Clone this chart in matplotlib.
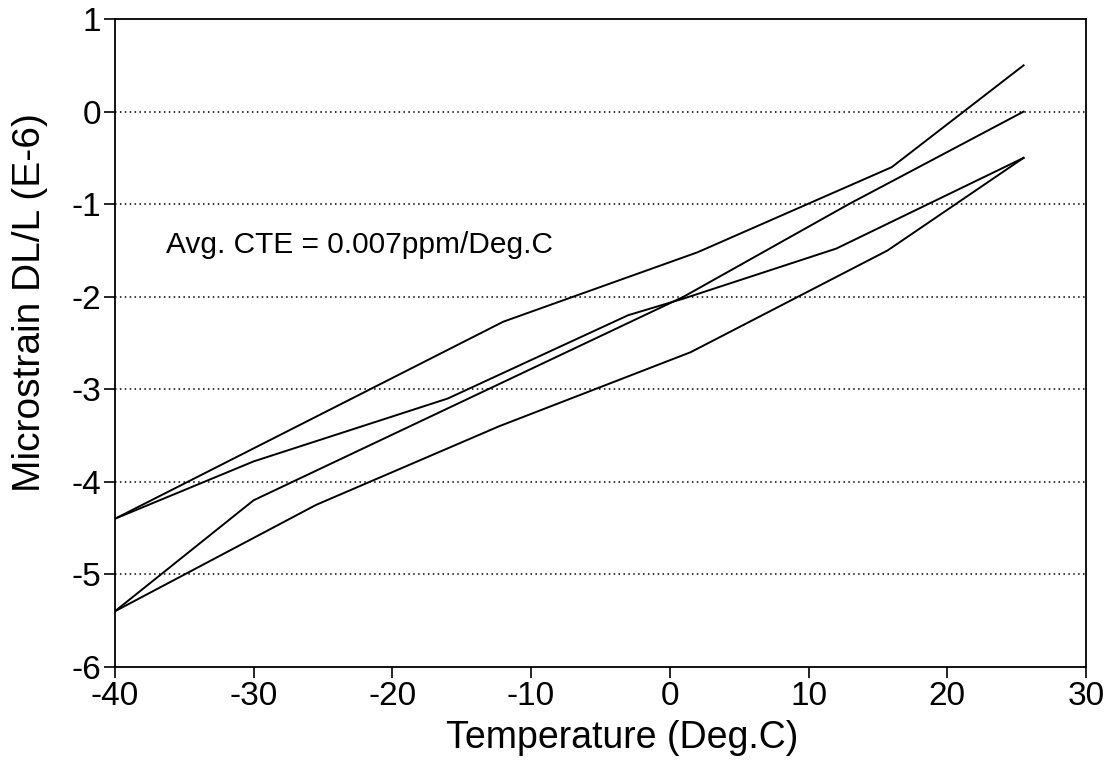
import matplotlib.pyplot as plt

plt.rcParams['font.family'] = ['Liberation Sans', 'DejaVu Sans']

# two thermal cycles, each with a heating and a cooling leg
temp_a_up = [-40, -12, 2, 16, 25.5]
strain_a_up = [-4.4, -2.27, -1.52, -0.6, 0.5]

temp_a_down = [-40, -30, -16, -3, 1, 12, 25.5]
strain_a_down = [-4.4, -3.78, -3.1, -2.2, -2.02, -1.48, -0.5]

temp_b_up = [-40, -30, 1, 12.9, 25.5]
strain_b_up = [-5.4, -4.2, -2.0, -1.0, 0.0]

temp_b_down = [-40, -25.5, -12.3, 1.5, 15.7, 25.5]
strain_b_down = [-5.4, -4.25, -3.4, -2.6, -1.5, -0.5]

xticks = [-40, -30, -20, -10, 0, 10, 20, 30]
yticks = [1, 0, -1, -2, -3, -4, -5, -6]
grid_levels = [0, -1, -2, -3, -4, -5]

fig = plt.figure(figsize=(11.15, 7.63), dpi=100)
ax = fig.add_axes([0.103, 0.126, 0.871, 0.849])

for level in grid_levels:
    ax.axhline(level, color='black', linestyle=(0, (1, 2.2)), linewidth=1.1, zorder=1)

for t, s in [(temp_a_up, strain_a_up), (temp_a_down, strain_a_down),
             (temp_b_up, strain_b_up), (temp_b_down, strain_b_down)]:
    ax.plot(t, s, color='black', linewidth=1.4, zorder=2)

ax.set_xlim(-40, 30)
ax.set_ylim(-6, 1)
ax.set_xticks(xticks)
ax.set_yticks(yticks)
ax.set_xticklabels([str(v) for v in xticks])
ax.set_yticklabels([str(v) for v in yticks])
ax.tick_params(direction='out', length=8, width=1.2, labelsize=24, pad=2, colors='black')

for sp in ax.spines.values():
    sp.set_linewidth(1.3)

ax.set_xlabel('Temperature (Deg.C)', fontsize=27, va='center', ha='center')
ax.set_ylabel('Microstrain DL/L (E-6)', fontsize=28, va='center', ha='center')
ax.xaxis.set_label_coords(0.522, -0.11)
ax.yaxis.set_label_coords(-0.087, 0.562)

ax.text(-36.3, -1.44, 'Avg. CTE = 0.007ppm/Deg.C', fontsize=21.5, va='center', ha='left')

fig.savefig('out.png', dpi=100)
